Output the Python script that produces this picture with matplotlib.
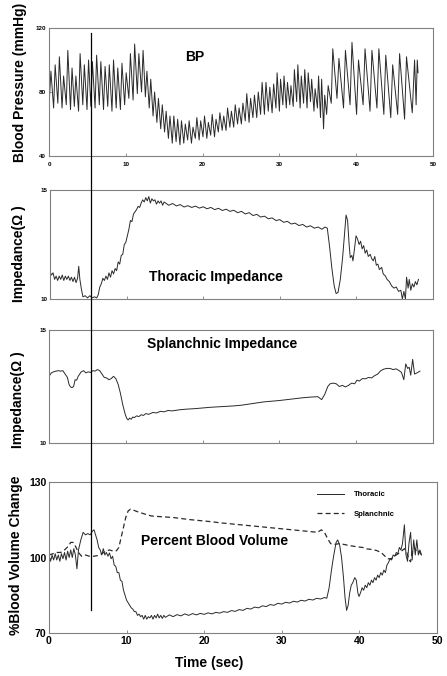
import matplotlib
matplotlib.use("Agg")
import matplotlib.pyplot as plt
from matplotlib.lines import Line2D

plt.rcParams['font.family'] = ['Liberation Sans', 'DejaVu Sans']
plt.rcParams['font.weight'] = 'bold'

# ---- blood pressure: turning points (trough, peak, trough, peak ...) ----
bp_t = [0.0, 0.25, 0.6, 0.8, 1.15, 1.35, 1.7, 1.9, 2.25, 2.45, 2.8, 3.0, 3.3, 3.5,
        3.85, 4.05, 4.4, 4.6, 4.95, 5.15, 5.45, 5.65, 6.0, 6.2, 6.55, 6.75, 7.1, 7.3,
        7.65, 7.85, 8.2, 8.4, 8.75, 8.95, 9.3, 9.5, 9.85, 10.05, 10.4, 10.6, 10.95, 11.15,
        11.5, 11.7, 12.05, 12.25, 12.55, 12.75, 13.05, 13.25, 13.55, 13.75, 14.05, 14.25,
        14.55, 14.75, 15.05, 15.25, 15.55, 15.75, 16.05, 16.25, 16.55, 16.75, 17.05, 17.25,
        17.55, 17.75, 18.05, 18.25, 18.55, 18.75, 19.05, 19.25, 19.55, 19.75, 20.05, 20.25,
        20.55, 20.75, 21.05, 21.25, 21.55, 21.75, 22.05, 22.25, 22.55, 22.75, 23.05, 23.25,
        23.55, 23.75, 24.05, 24.25, 24.55, 24.75, 25.05, 25.25, 25.55, 25.75, 26.05, 26.25,
        26.55, 26.75, 27.05, 27.25, 27.55, 27.75, 28.05, 28.25, 28.55, 28.75, 29.05, 29.25,
        29.55, 29.7, 30.0, 30.15, 30.45, 30.6, 30.9, 31.05, 31.35, 31.5, 31.8, 31.95,
        32.25, 32.4, 32.7, 32.85, 33.15, 33.3, 33.6, 33.75, 34.05, 34.2, 34.5, 34.65,
        34.95, 35.1, 35.35, 35.5, 35.75, 35.9, 36.15, 36.35, 36.75, 36.95, 37.5, 37.75,
        38.35, 38.6, 39.2, 39.45, 40.05, 40.3, 40.9, 41.15, 41.8, 42.05, 42.7, 42.95,
        43.6, 43.85, 44.5, 44.75, 45.4, 45.65, 46.3, 46.55, 47.3, 47.6, 47.8, 47.95, 48.05]
bp_v = [71, 93, 70, 97, 73, 102, 70, 90, 72, 106, 69, 95, 71, 90,
        68, 104, 72, 97, 69, 100, 71, 99, 70, 103, 72, 99, 69, 96,
        71, 97, 68, 100, 70, 95, 69, 98, 72, 92, 76, 104, 75, 110,
        79, 104, 80, 106, 77, 93, 70, 88, 65, 80, 61, 76,
        57, 72, 55, 68, 51, 65, 48, 65, 49, 63, 47, 62,
        48, 60, 50, 62, 48, 58, 51, 64, 50, 62, 52, 65,
        51, 61, 53, 66, 52, 63, 55, 67, 56, 65, 56, 70,
        58, 68, 58, 72, 60, 70, 60, 73, 62, 79, 61, 76,
        64, 78, 64, 80, 66, 86, 66, 86, 68, 83, 67, 85,
        70, 92, 68, 88, 72, 90, 70, 86, 72, 84, 71, 94,
        74, 97, 70, 90, 73, 94, 70, 92, 74, 88, 68, 82,
        70, 90, 64, 88, 57, 78, 66, 84, 73, 107, 76, 101,
        70, 106, 72, 111, 66, 100, 72, 107, 68, 106, 70, 107,
        66, 103, 64, 97, 66, 104, 63, 102, 67, 100, 72, 100, 92]

# ---- thoracic impedance (ohm) ----
thor_t = [0.0, 0.2, 0.4, 0.6, 0.8, 1.0, 1.2, 1.4, 1.6, 1.8, 2.0, 2.2, 2.4, 2.6, 2.8, 3.0,
          3.2, 3.4, 3.6, 3.75, 3.9, 4.1, 4.3, 4.6, 4.9, 5.2, 5.5, 5.8, 6.1, 6.3, 6.5, 6.7,
          6.9, 7.1, 7.3, 7.5, 7.7, 7.9, 8.1, 8.3, 8.5, 8.7, 8.9, 9.1, 9.3, 9.5, 9.7, 9.9,
          10.1, 10.3, 10.5, 10.7, 10.9, 11.1, 11.3, 11.5, 11.7, 11.9, 12.1, 12.3, 12.5, 12.7,
          12.9, 13.1, 13.3, 13.5, 13.7, 13.9, 14.1, 14.3, 14.5, 14.7, 14.9, 15.5, 16.0, 16.5,
          17.0, 17.5, 18.0, 18.5, 19.0, 19.5, 20.0, 20.5, 21.0, 21.5, 22.0, 22.5, 23.0, 23.5,
          24.0, 24.5, 25.0, 25.5, 26.0, 26.5, 27.0, 27.5, 28.0, 28.5, 29.0, 29.5, 30.0, 30.5,
          31.0, 31.5, 32.0, 32.5, 33.0, 33.5, 34.0, 34.5, 35.0, 35.5, 35.9, 36.2, 36.5, 36.8,
          37.1, 37.35, 37.6, 37.9, 38.2, 38.45, 38.65, 38.85, 39.05, 39.2, 39.4, 39.55, 39.75,
          39.95, 40.15, 40.35, 40.55, 40.75, 40.95, 41.15, 41.35, 41.55, 41.8, 42.0, 42.2,
          42.4, 42.6, 42.8, 43.0, 43.3, 43.5, 43.8, 44.0, 44.3, 44.6, 44.9, 45.2, 45.5, 45.8,
          46.0, 46.2, 46.4, 46.55, 46.75, 46.9, 47.1, 47.3, 47.5, 47.7, 47.9, 48.1]
thor_z = [11.25, 11.1, 11.2, 10.9, 11.05, 10.85, 11.05, 10.9, 11.1, 10.85, 11.05, 10.9,
          11.05, 10.85, 11.0, 10.8, 11.0, 10.75, 10.95, 11.5, 10.9, 10.45, 10.1, 10.15,
          10.05, 10.15, 10.05, 10.1, 10.05, 10.2, 10.55, 10.7, 10.95, 10.85, 11.05, 10.9,
          11.2, 11.0, 11.3, 11.15, 11.4, 11.3, 11.7, 11.6, 12.0, 12.05, 12.5, 12.6,
          12.9, 13.2, 13.6, 13.55, 13.9, 14.0, 14.1, 14.25, 14.2, 14.4, 14.55, 14.45,
          14.65, 14.5, 14.7, 14.4, 14.6, 14.5, 14.55, 14.35, 14.5, 14.4, 14.5, 14.3,
          14.45, 14.3, 14.38, 14.27, 14.33, 14.22, 14.28, 14.2, 14.26, 14.17, 14.23, 14.14,
          14.2, 14.1, 14.16, 14.06, 14.12, 14.02, 14.07, 13.96, 14.02, 13.9, 13.96, 13.83,
          13.88, 13.76, 13.8, 13.68, 13.72, 13.6, 13.64, 13.52, 13.56, 13.44, 13.48, 13.37,
          13.42, 13.3, 13.36, 13.25, 13.3, 13.2, 13.3, 13.25, 12.4, 11.4,
          10.6, 10.25, 10.3, 10.9, 11.9, 13.0, 13.85, 13.6, 12.5, 11.9, 12.0, 11.75, 12.3,
          12.9, 12.75, 12.5, 12.65, 12.3, 12.45, 12.1, 12.25, 11.95, 12.05, 11.85, 11.75,
          11.95, 11.55, 11.6, 11.35, 11.45, 11.15, 11.05, 10.9, 10.8, 10.6, 10.5, 10.55,
          10.35, 10.4, 10.0, 10.35, 10.0, 11.0, 10.5, 10.9, 10.4, 10.7, 10.55, 10.8, 10.65,
          10.9]

# ---- splanchnic impedance (ohm) ----
spl_t = [0.0, 0.3, 0.6, 0.9, 1.2, 1.5, 1.8, 2.1, 2.4, 2.6, 2.8, 3.0, 3.2, 3.4, 3.6, 3.8,
         4.0, 4.2, 4.5, 4.8, 5.1, 5.4, 5.7, 6.0, 6.3, 6.6, 6.9, 7.2, 7.5, 7.8, 8.1, 8.4,
         8.7, 9.0, 9.3, 9.6, 9.9, 10.1, 10.3, 10.5, 10.7, 10.9, 11.1, 11.4, 11.7, 12.0,
         12.3, 12.6, 13.0, 13.5, 14.0, 14.5, 15.0, 15.5, 16.0, 17.0, 18.0, 19.0, 20.0,
         21.0, 22.0, 23.0, 24.0, 25.0, 26.0, 27.0, 28.0, 29.0, 30.0, 31.0, 32.0, 33.0,
         34.0, 35.0, 35.5, 35.9, 36.3, 36.6, 37.0, 37.4, 37.8, 38.2, 38.6, 39.0, 39.4,
         39.8, 40.1, 40.4, 40.8, 41.2, 41.6, 42.0, 42.4, 42.8, 43.2, 43.6, 44.0, 44.4,
         44.8, 45.2, 45.6, 45.9, 46.2, 46.45, 46.7, 46.9, 47.1, 47.35, 47.6, 47.9, 48.3]
spl_z = [12.95, 13.1, 13.15, 13.18, 13.2, 13.18, 13.2, 13.05, 12.9, 12.6, 12.48, 12.45,
         12.5, 12.8, 12.78, 12.95, 13.05, 13.15, 13.2, 13.1, 13.15, 13.12, 13.2, 13.18,
         13.25, 13.2, 13.05, 12.9, 12.88, 12.8, 12.85, 12.95, 12.85, 12.6, 12.2, 11.7,
         11.3, 11.1, 11.02, 11.1, 11.05, 11.15, 11.12, 11.2, 11.17, 11.25, 11.22, 11.3,
         11.27, 11.35, 11.33, 11.4, 11.38, 11.44, 11.42, 11.47, 11.5, 11.52, 11.55, 11.58,
         11.6, 11.62, 11.64, 11.67, 11.72, 11.77, 11.82, 11.85, 11.88, 11.92, 11.96, 12.0,
         12.03, 12.05, 11.92, 12.15, 12.5, 12.62, 12.65, 12.62, 12.5, 12.55, 12.48, 12.55,
         12.65, 12.62, 12.78, 12.74, 12.85, 12.84, 12.9, 12.88, 12.98, 13.05, 13.2, 13.27,
         13.3, 13.3, 13.25, 13.28, 13.2, 13.12, 12.8, 13.5, 13.3, 13.35, 13.0, 13.7, 13.05,
         13.1, 13.18]

# ---- percent blood volume change ----
pbv_thor_t = [0.0, 0.2, 0.4, 0.6, 0.8, 1.0, 1.2, 1.4, 1.6, 1.8, 2.0, 2.2, 2.4, 2.6, 2.8,
              3.0, 3.2, 3.4, 3.6, 3.8, 4.1, 4.4, 4.7, 5.0, 5.3, 5.6, 5.8, 6.0, 6.2, 6.4,
              6.6, 6.8, 7.0, 7.2, 7.4, 7.6, 7.8, 8.0, 8.2, 8.4, 8.6, 8.8, 9.0, 9.2, 9.4,
              9.6, 9.8, 10.0, 10.2, 10.4, 10.6, 10.8, 11.0, 11.2, 11.4, 11.6, 11.8, 12.0,
              12.2, 12.4, 12.6, 12.8, 13.0, 13.2, 13.4, 13.6, 13.8, 14.0, 14.2, 14.4, 14.6,
              14.8, 15.0, 15.5, 16.0, 16.5, 17.0, 17.5, 18.0, 18.5, 19.0, 19.5, 20.0, 20.5,
              21.0, 21.5, 22.0, 22.5, 23.0, 23.5, 24.0, 24.5, 25.0, 25.5, 26.0, 26.5, 27.0,
              27.5, 28.0, 28.5, 29.0, 29.5, 30.0, 30.5, 31.0, 31.5, 32.0, 32.5, 33.0, 33.5,
              34.0, 34.5, 35.0, 35.5, 35.8, 36.1, 36.4, 36.7, 37.0, 37.2, 37.45, 37.7, 37.95,
              38.15, 38.35, 38.55, 38.75, 38.95, 39.15, 39.4, 39.6, 39.8, 39.95, 40.15, 40.35,
              40.55, 40.75, 40.95, 41.15, 41.35, 41.55, 41.75, 41.95, 42.15, 42.35, 42.55,
              42.75, 42.95, 43.15, 43.35, 43.55, 43.75, 43.95, 44.15, 44.35, 44.55, 44.75,
              44.95, 45.15, 45.35, 45.55, 45.8, 46.0, 46.2, 46.4, 46.6, 46.8, 47.0, 47.2,
              47.4, 47.6, 47.8, 48.0]
pbv_thor = [100.5, 98.5, 101, 99, 101.5, 99, 101, 98.5, 101.5, 99.5, 102, 99, 102.5, 100,
            103, 100, 103.5, 101, 95.5, 103, 107, 110, 109, 109.5, 109, 110.5, 111, 109,
            107, 104, 103, 101, 103.5, 101, 102, 100.5, 101.8, 99.5, 100.5, 97, 96.5, 94,
            94, 91, 90.5, 87, 85, 83, 82, 81, 80, 79.5, 78.5, 78.5, 77, 77.5, 76.5, 77,
            75.5, 77, 75.5, 76.5, 76, 77, 75.5, 77, 76, 77.5, 76, 77, 75.8, 77, 76.2,
            77.2, 76.5, 77.3, 76.8, 77.6, 77.0, 77.7, 77.2, 77.8, 77.4, 78.0, 77.6, 78.2,
            77.9, 78.5, 78.2, 78.9, 78.6, 79.3, 79.0, 79.8, 79.5, 80.3, 80.0, 80.8, 80.5,
            81.3, 81.0, 81.8, 81.5, 82.2, 81.9, 82.6, 82.3, 83.0, 82.7, 83.4, 83.1, 83.8,
            83.5, 84.1, 83.8, 88, 95, 101, 106, 107, 105, 100, 92, 84, 79, 81, 86, 89, 90,
            92, 91, 86, 84.5, 86, 88, 87, 89, 88, 90, 89, 91, 90, 92, 91, 93, 92, 94, 93,
            95, 94, 97, 98, 99.5, 99, 101, 100.5, 102, 101.5, 104, 103, 105.5, 113, 101,
            98.5, 106, 110, 99, 107, 101, 107, 101, 103, 101]
pbv_spl_t = [0.0, 0.5, 1.0, 1.5, 2.0, 2.5, 2.8, 3.1, 3.4, 3.8, 4.2, 4.7, 5.2, 5.8, 6.3,
             6.8, 7.3, 7.8, 8.3, 8.7, 9.0, 9.3, 9.6, 9.9, 10.2, 10.5, 10.9, 11.4, 12.0,
             12.6, 13.2, 14.0, 15.0, 16.0, 17.0, 18.0, 19.0, 20.0, 21.0, 22.0, 23.0, 24.0,
             25.0, 26.0, 27.0, 28.0, 29.0, 30.0, 31.0, 32.0, 33.0, 34.0, 34.6, 35.1, 35.5,
             35.9, 36.3, 36.8, 37.4, 38.0, 38.6, 39.2, 39.8, 40.4, 41.0, 41.6, 42.2, 42.8,
             43.3, 43.7, 44.1, 44.5, 45.0, 45.4, 45.8, 46.1, 46.4, 46.6, 46.8, 47.1, 47.4,
             47.7, 48.0]
pbv_spl = [101, 101.5, 102, 102, 103, 104.5, 106, 106, 104.5, 102, 100.5, 101, 100.5,
           100.5, 100.8, 101.5, 102.5, 103, 102.5, 102.7, 104, 108, 112, 116, 118.5, 119.2,
           118.8, 118.2, 117.6, 117, 116.5, 116.3, 116.1, 115.9, 115.5, 115.1, 114.8, 114.5,
           114.2, 113.8, 113.5, 113.2, 112.9, 112.6, 112.3, 112.0, 111.7, 111.4, 111.1,
           110.8, 110.5, 110.2, 110.0, 111.0, 110.0, 107.5, 105.5, 105.2, 105.5, 105.2,
           104.8, 104.5, 104.2, 104, 103.4, 103.2, 102.8, 102, 100.5, 99.5, 99.5, 100.5,
           101.5, 102.5, 103.5, 102, 99, 98.3, 102.5, 104, 102, 102.5, 101]

event_time = 5.5
x_ticks = [0, 10, 20, 30, 40, 50]

W, H = 447, 676
fig = plt.figure(figsize=(W / 100, H / 100), dpi=100)


def px_rect(left, top, right, bottom):
    return [left / W, 1 - bottom / H, (right - left) / W, (bottom - top) / H]


line_color = '#2a2a2a'
spine_color = '#808080'

ax1 = fig.add_axes(px_rect(49, 28, 433, 156))
ax2 = fig.add_axes(px_rect(50, 190, 433, 299))
ax3 = fig.add_axes(px_rect(49, 330, 433, 443))
ax4 = fig.add_axes(px_rect(49, 482, 437, 633))

ax1.plot(bp_t, bp_v, color=line_color, lw=0.7)
ax2.plot(thor_t, thor_z, color=line_color, lw=0.7)
ax3.plot(spl_t, spl_z, color=line_color, lw=0.7)
ax4.plot(pbv_thor_t, pbv_thor, color=line_color, lw=0.7, label='Thoracic')
ax4.plot(pbv_spl_t, pbv_spl, color=line_color, lw=0.9, ls=(0, (4, 2.5)), label='Splanchnic')

ax1.set_ylim(40, 120)
ax1.set_yticks([40, 80, 120])
ax2.set_ylim(10, 15)
ax2.set_yticks([10, 15])
ax3.set_ylim(10, 15)
ax3.set_yticks([10, 15])
ax4.set_ylim(70, 130)
ax4.set_yticks([70, 100, 130])

for ax in (ax1, ax2, ax3, ax4):
    ax.set_xlim(0, 50)
    ax.set_xticks(x_ticks)
    for s in ax.spines.values():
        s.set_color(spine_color)
        s.set_linewidth(0.8)
    ax.tick_params(direction='in', length=2.5, width=0.6, color=spine_color, pad=2)

ax1.tick_params(labelsize=4.5)
ax1.tick_params(axis='x', pad=4)
ax2.tick_params(labelsize=4.5, labelbottom=False)
ax3.tick_params(labelsize=4.5, labelbottom=False)
ax4.tick_params(labelsize=7.5)

ax1.set_ylabel('Blood Pressure (mmHg)', fontsize=10, fontweight='bold')
ax2.set_ylabel('Impedance(Ω )', fontsize=10, fontweight='bold')
ax3.set_ylabel('Impedance(Ω )', fontsize=10, fontweight='bold')
ax4.set_ylabel('%Blood Volume Change', fontsize=10, fontweight='bold')
ax1.yaxis.set_label_coords(-0.058, 0.574)
ax2.yaxis.set_label_coords(-0.062, 0.417)
ax3.yaxis.set_label_coords(-0.062, 0.38)
ax4.yaxis.set_label_coords(-0.068, 0.515)

ax4.set_xlabel('Time (sec)', fontsize=10, fontweight='bold')
ax4.xaxis.set_label_coords(0.412, -0.155)

ax1.text(19.0, 102, 'BP', fontsize=10, fontweight='bold', ha='center', va='center')
ax2.text(21.7, 11.0, 'Thoracic Impedance', fontsize=10, fontweight='bold', ha='center', va='center')
ax3.text(22.6, 14.38, 'Splanchnic Impedance', fontsize=10, fontweight='bold', ha='center', va='center')
ax4.text(21.3, 106.7, 'Percent Blood Volume', fontsize=10, fontweight='bold', ha='center', va='center')

ax4.legend(frameon=False, loc='upper right', bbox_to_anchor=(0.91, 0.985), fontsize=5.5,
           handlelength=3.5, handletextpad=1.4, labelspacing=1.6)

# event marker spanning all panels
to_fig = fig.transFigure.inverted()
x_top, y_top = to_fig.transform(ax1.transData.transform((event_time, 117)))
x_bot, y_bot = to_fig.transform(ax4.transData.transform((event_time, 79)))
fig.add_artist(Line2D([x_top, x_top], [y_top, y_bot], transform=fig.transFigure,
                      color='black', lw=0.9))

fig.savefig('out.png', dpi=100)
